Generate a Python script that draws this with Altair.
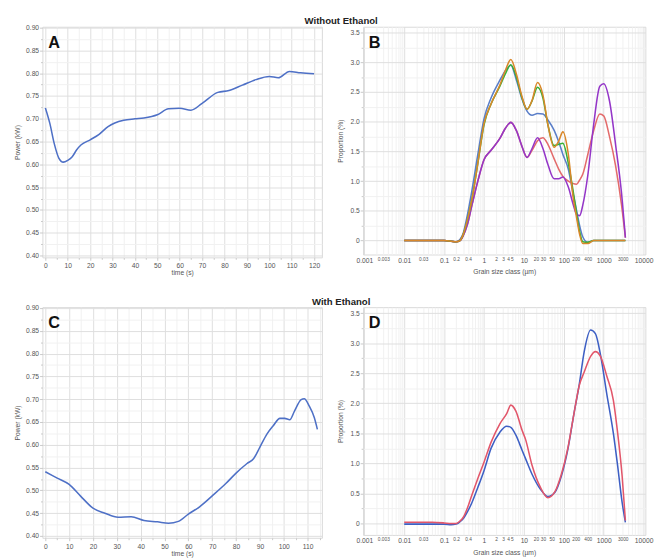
import altair as alt
import pandas as pd

# ---------------- data ----------------
time_a = [0, 2, 4, 6, 8, 10, 12, 14, 16, 20, 24, 28, 31, 35, 40, 44, 50, 55, 60, 65,
          70, 77, 82, 88, 94, 100, 104, 109, 114, 120]
power_a = [0.724, 0.69, 0.645, 0.614, 0.605, 0.609, 0.617, 0.632, 0.643, 0.654, 0.666,
           0.683, 0.691, 0.697, 0.700, 0.702, 0.709, 0.722, 0.723, 0.719, 0.734, 0.758,
           0.762, 0.774, 0.786, 0.793, 0.790, 0.804, 0.801, 0.799]

time_c = [0, 5, 10, 14.7, 20, 25, 30.5, 36, 41.4, 47, 51.7, 55.8, 60, 64.7, 70, 75.7, 80,
          84.6, 87.4, 90, 93, 95.6, 98.4, 100.4, 102.5, 104.5, 107.3, 108.6, 110.7, 112.8, 114.1]
power_c = [0.541, 0.527, 0.513, 0.488, 0.461, 0.450, 0.441, 0.442, 0.434, 0.431, 0.428,
           0.432, 0.448, 0.464, 0.488, 0.515, 0.538, 0.559, 0.570, 0.595, 0.624, 0.642,
           0.658, 0.658, 0.655, 0.674, 0.699, 0.701, 0.685, 0.660, 0.634]

size_b = [0.01, 0.05, 0.1, 0.15, 0.2, 0.25, 0.3, 0.38, 0.5, 0.7,
          1, 1.5, 2.5, 3.5, 4.7, 6.5, 9, 12, 16, 22,
          30, 40, 57, 75, 95, 130, 170, 210, 250, 300,
          400, 560, 800, 1000, 1400, 2000, 2800, 3500]
b_blue = [0, 0, 0, -0.01, -0.02, 0.02, 0.12, 0.42, 0.85, 1.45,
          2.05, 2.4, 2.7, 2.87, 2.95, 2.7, 2.38, 2.18, 2.11, 2.14,
          2.13, 2.03, 1.86, 1.66, 1.45, 1.2, 0.8, 0.5, 0.25, 0.06,
          -0.03, 0, 0, 0, 0, 0, 0, 0]
b_green = [0, 0, 0, -0.01, -0.02, 0.0, 0.1, 0.34, 0.7, 1.3,
           1.95, 2.3, 2.6, 2.82, 2.96, 2.75, 2.4, 2.21, 2.35, 2.58,
           2.4, 1.95, 1.6, 1.62, 1.64, 1.3, 0.85, 0.45, 0.15, -0.02,
           -0.03, 0, 0, 0, 0, 0, 0, 0]
b_orange = [0, 0, 0, -0.01, -0.02, 0.0, 0.1, 0.34, 0.7, 1.3,
            1.97, 2.3, 2.62, 2.88, 3.05, 2.8, 2.42, 2.21, 2.36, 2.66,
            2.45, 1.95, 1.57, 1.68, 1.83, 1.45, 0.75, 0.38, 0.1, -0.05,
            -0.05, 0, 0, 0, 0, 0, 0, 0]
b_red = [0, 0, 0, -0.01, -0.02, 0.0, 0.08, 0.26, 0.6, 1.0,
         1.36, 1.52, 1.72, 1.9, 1.99, 1.85, 1.58, 1.40, 1.52, 1.68,
         1.73, 1.62, 1.38, 1.2, 1.08, 1.0, 0.96, 0.95, 1.02, 1.12,
         1.45, 1.85, 2.13, 2.1, 1.75, 1.25, 0.6, 0.05]
b_purple = [0, 0, 0, -0.01, -0.02, 0.0, 0.08, 0.26, 0.6, 1.0,
            1.36, 1.52, 1.72, 1.9, 1.99, 1.85, 1.58, 1.40, 1.55, 1.73,
            1.55, 1.28, 1.04, 1.04, 1.07, 0.9, 0.62, 0.44, 0.42, 0.6,
            1.1, 1.95, 2.6, 2.64, 2.35, 1.6, 0.8, 0.05]

size_d = [0.01, 0.05, 0.1, 0.15, 0.2, 0.25, 0.3, 0.38, 0.5, 0.7,
          1, 1.5, 2.5, 3.7, 4.7, 6.3, 9, 11, 16, 26,
          40, 60, 87, 126, 180, 245, 325, 470, 620, 830,
          1200, 1750, 2200, 2900, 3500]
d_blue = [-0.01, -0.01, -0.01, -0.02, -0.01, 0.03, 0.08, 0.19, 0.35, 0.6,
          0.88, 1.25, 1.52, 1.62, 1.6, 1.47, 1.22, 1.08, 0.82, 0.57,
          0.45, 0.52, 0.79, 1.23, 1.83, 2.32, 2.86, 3.22, 3.16, 2.81,
          2.15, 1.5, 1.0, 0.35, 0.02]
d_red = [0.02, 0.02, 0.01, 0.0, 0.0, 0.04, 0.1, 0.25, 0.48, 0.75,
         1.02, 1.35, 1.66, 1.83, 1.97, 1.87, 1.55, 1.4, 0.97, 0.6,
         0.43, 0.53, 0.82, 1.25, 1.83, 2.3, 2.52, 2.78, 2.86, 2.78,
         2.45, 2.05, 1.55, 0.79, 0.05]

panel_letters = ["A", "B", "C", "D"]
row_titles = ["Without Ethanol", "With Ethanol"]

time_ticks_a = [0, 10, 20, 30, 40, 50, 60, 70, 80, 90, 100, 110, 120]
time_minor_a = [5, 15, 25, 35, 45, 55, 65, 75, 85, 95, 105, 115]
time_ticks_c = [0, 10, 20, 30, 40, 50, 60, 70, 80, 90, 100, 110]
time_minor_c = [5, 15, 25, 35, 45, 55, 65, 75, 85, 95, 105, 115]
power_ticks = [0.40, 0.45, 0.50, 0.55, 0.60, 0.65, 0.70, 0.75, 0.80, 0.85, 0.90]
power_minor = [0.425, 0.475, 0.525, 0.575, 0.625, 0.675, 0.725, 0.775, 0.825, 0.875]
prop_ticks = [0, 0.5, 1.0, 1.5, 2.0, 2.5, 3.0, 3.5]
prop_minor = [0.25, 0.75, 1.25, 1.75, 2.25, 2.75, 3.25]
size_major = [0.001, 0.01, 0.1, 1, 10, 100, 1000, 10000]
size_small_labels = [0.003, 0.03, 0.2, 0.4, 2, 3, 4, 5, 20, 30, 50, 200, 400, 3000]
size_minor = [m * d for d in [0.001, 0.01, 0.1, 1, 10, 100, 1000] for m in range(2, 10)]

FONT = "Liberation Sans"
GRID_MAJOR = "#dedede"
GRID_MINOR = "#f0f0f0"
TICK = "#c8c8c8"


def letter_layer(letter):
    return alt.Chart(pd.DataFrame({"label": [letter]})).mark_text(
        font=FONT, fontSize=17, fontWeight="bold", color="#111111",
        align="left", baseline="alphabetic"
    ).encode(text="label:N", x=alt.value(6), y=alt.value(22))


def time_panel(times, powers, letter, xdom, ticks, minor, color):
    df = pd.DataFrame({"t": times, "p": powers})
    xs = alt.Scale(domain=xdom, nice=False, zero=False)
    ys = alt.Scale(domain=[0.396, 0.902], nice=False, zero=False)
    minor_layer = alt.Chart(df).mark_line(opacity=0).encode(
        x=alt.X("t:Q", scale=xs, axis=alt.Axis(
            orient="bottom", values=minor, labels=False, title=None, grid=True,
            gridColor=GRID_MINOR, tickSize=2, tickColor=TICK, domain=False)),
        y=alt.Y("p:Q", scale=ys, axis=alt.Axis(
            orient="left", values=power_minor, labels=False, title=None, grid=True,
            gridColor=GRID_MINOR, tickSize=2, tickColor=TICK, domain=False)),
    )
    line = alt.Chart(df).mark_line(
        interpolate="monotone", color=color, strokeWidth=1.6
    ).encode(
        x=alt.X("t:Q", scale=xs, axis=alt.Axis(
            orient="bottom", values=ticks, title="time (s)", grid=True,
            gridColor=GRID_MAJOR, tickSize=3, tickColor=TICK, domain=False,
            labelPadding=2, titlePadding=0, labelFlush=False, labelOverlap=False)),
        y=alt.Y("p:Q", scale=ys, axis=alt.Axis(
            orient="left", values=power_ticks, format=".2f", title="Power (kW)",
            grid=True, gridColor=GRID_MAJOR, tickSize=3, tickColor=TICK,
            domain=False, labelPadding=1, titlePadding=5, labelFlush=False,
            labelOverlap=False)),
    )
    return alt.layer(minor_layer, line, letter_layer(letter)).resolve_axis(
        x="independent", y="independent"
    ).properties(width=292, height=241)


def size_panel(sizes, series, letter, ydom):
    xs = alt.Scale(type="log", domain=[0.00093, 11100], nice=False)
    ys = alt.Scale(domain=ydom, nice=False, zero=False)
    df0 = pd.DataFrame({"s": sizes, "v": series[0][1]})
    minor_layer = alt.Chart(df0).mark_line(opacity=0).encode(
        x=alt.X("s:Q", scale=xs, axis=alt.Axis(
            orient="bottom", values=size_minor, labels=False, title=None, grid=True,
            gridColor=GRID_MINOR, ticks=False, domain=False)),
        y=alt.Y("v:Q", scale=ys, axis=alt.Axis(
            orient="left", values=prop_minor, labels=False, title=None, grid=True,
            gridColor=GRID_MINOR, tickSize=2, tickColor=TICK, domain=False)),
    )
    small_layer = alt.Chart(df0).mark_line(opacity=0).encode(
        x=alt.X("s:Q", scale=xs, axis=alt.Axis(
            orient="bottom", values=size_small_labels, format="~g", title=None,
            grid=False, ticks=False, domain=False, labelFontSize=5,
            labelPadding=2, labelFlush=False, labelOverlap=False)),
        y=alt.Y("v:Q", scale=ys, axis=None),
    )
    layers = [minor_layer, small_layer]
    first = True
    for color, vals in series:
        d = pd.DataFrame({"s": sizes, "v": vals})
        if first:
            xa = alt.Axis(orient="bottom", values=size_major, format="~g",
                          title="Grain size class (µm)", grid=True, gridColor=GRID_MAJOR,
                          ticks=False, domain=False, labelPadding=2, titlePadding=5,
                          labelFlush=False, labelOverlap=False)
            ya = alt.Axis(orient="left", values=prop_ticks,
                          labelExpr="datum.value == 0 ? '0' : format(datum.value, '.1f')",
                          title="Proportion (%)", grid=True, gridColor=GRID_MAJOR,
                          tickSize=3, tickColor=TICK, domain=False, labelPadding=1,
                          titlePadding=7, labelFlush=False, labelOverlap=False)
        else:
            xa = None
            ya = None
        layers.append(alt.Chart(d).mark_line(
            interpolate="monotone", color=color, strokeWidth=1.6
        ).encode(
            x=alt.X("s:Q", scale=xs, axis=xa),
            y=alt.Y("v:Q", scale=ys, axis=ya),
        ))
        first = False
    layers.append(letter_layer(letter))
    return alt.layer(*layers).resolve_axis(
        x="independent", y="independent"
    ).properties(width=295, height=238)


pA = time_panel(time_a, power_a, panel_letters[0], [-1.3, 123.5],
                time_ticks_a, time_minor_a, "#4e70c6")
pC = time_panel(time_c, power_c, panel_letters[2], [-1.2, 116],
                time_ticks_c, time_minor_c, "#4e70c6")
pB = size_panel(size_b, [("#5a7ec8", b_blue), ("#e36b6b", b_red), ("#9436c8", b_purple),
                         ("#35b035", b_green), ("#d9872a", b_orange)],
                panel_letters[1], [-0.235, 3.6])
pD = size_panel(size_d, [("#3d5fc4", d_blue), ("#e2566a", d_red)],
                panel_letters[3], [-0.19, 3.6])


def row_title(text):
    return alt.TitleParams(text, anchor="middle", fontSize=10, fontWeight="bold",
                           font=FONT, color="#222222", offset=-3, dx=8)


row1 = alt.hconcat(pA, pB, spacing=13).properties(title=row_title(row_titles[0]))
row2 = alt.hconcat(pC, pD, spacing=13).properties(title=row_title(row_titles[1]))

chart = alt.vconcat(row1, row2, spacing=21).properties(
    padding={"left": 5, "top": -4, "right": 0, "bottom": 0}
).configure_view(
    stroke="#d8d8d8"
).configure_axis(
    labelFont=FONT, titleFont=FONT, labelFontSize=7, titleFontSize=7,
    labelColor="#555555", titleColor="#555555", titleFontWeight="normal"
)

chart.save("out.html", embed_options={"renderer": "svg", "actions": False})
